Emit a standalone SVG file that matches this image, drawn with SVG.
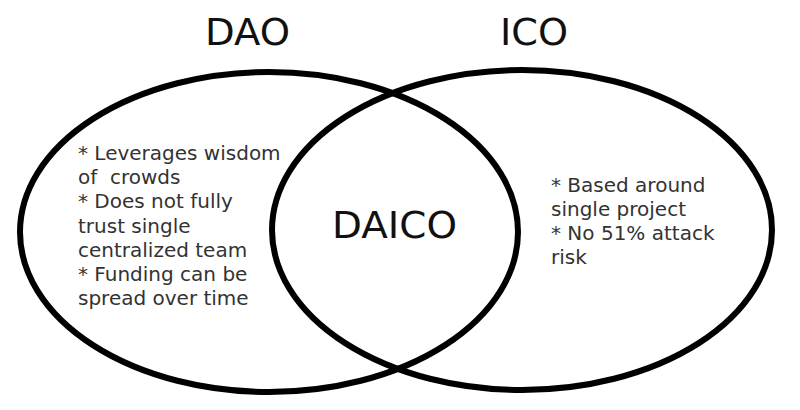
<svg xmlns="http://www.w3.org/2000/svg" width="800" height="410" viewBox="0 0 800 410">
<style>
.ring{fill:none;stroke:#000;stroke-width:6}
.title{font-family:"DejaVu Sans",sans-serif;font-size:37px;fill:#111}
.body{font-family:"DejaVu Sans",sans-serif;font-size:20px;fill:#333;white-space:pre}
</style>
<rect width="800" height="410" fill="#fff"/>
<g id="connectors"></g>
<g id="dao">
<ellipse class="ring" cx="269" cy="232" rx="249" ry="160"/>
<text class="title" x="205" y="45" textLength="85" lengthAdjust="spacingAndGlyphs">DAO</text>
<text class="body" x="78" y="160">* Leverages wisdom</text>
<text class="body" x="78" y="184" xml:space="preserve">of  crowds</text>
<text class="body" x="78" y="208">* Does not fully</text>
<text class="body" x="78" y="233">trust single</text>
<text class="body" x="78" y="257">centralized team</text>
<text class="body" x="78" y="281">* Funding can be</text>
<text class="body" x="78" y="305">spread over time</text>
</g>
<g id="ico">
<ellipse class="ring" cx="522" cy="230" rx="250" ry="160"/>
<text class="title" x="500" y="45" textLength="68" lengthAdjust="spacingAndGlyphs">ICO</text>
<text class="body" x="551" y="192">* Based around</text>
<text class="body" x="551" y="216">single project</text>
<text class="body" x="551" y="240">* No 51% attack</text>
<text class="body" x="551" y="264">risk</text>
</g>
<g id="daico">
<text class="title" x="332" y="238" font-size="35" textLength="125" lengthAdjust="spacingAndGlyphs">DAICO</text>
</g>
</svg>
